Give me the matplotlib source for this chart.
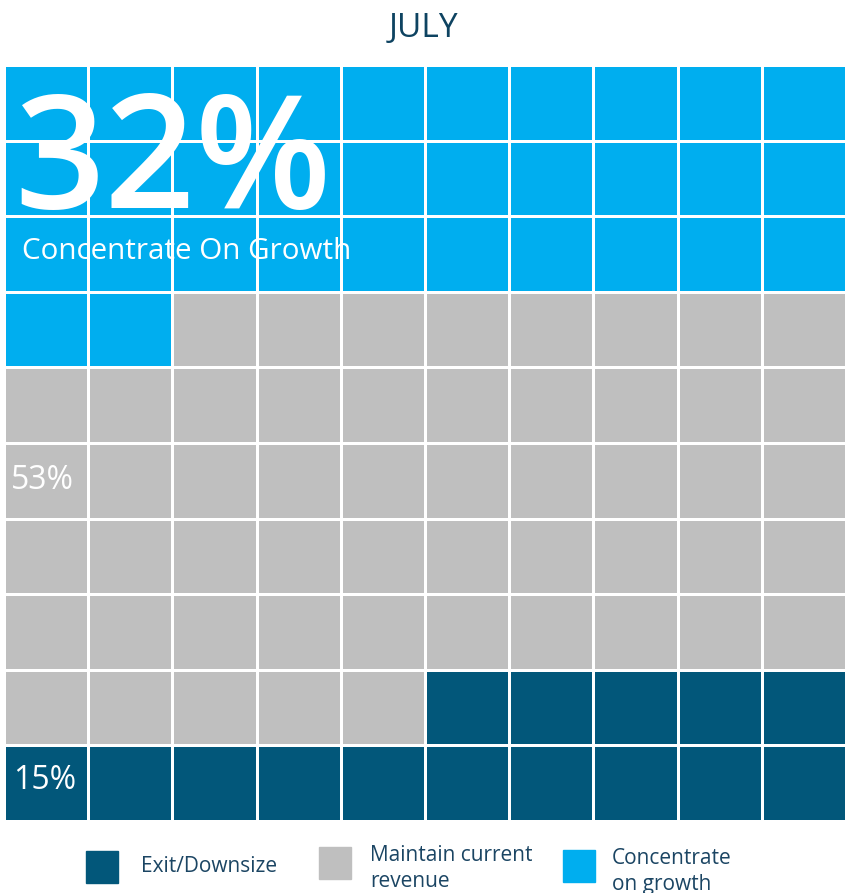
import matplotlib.pyplot as plt
from matplotlib.patches import Rectangle

# waffle data (percent of 100 cells), filled row by row from top-left
categories = ['Concentrate\non growth', 'Maintain current\nrevenue', 'Exit/Downsize']
counts = [32, 53, 15]
colors = ['#00AEEF', '#BFBFBF', '#02577A']
legend_order = [2, 1, 0]

W, H = 846, 893
plt.rcParams['font.family'] = ['Open Sans', 'DejaVu Sans']

fig = plt.figure(figsize=(W / 100, H / 100), dpi=100)

def fx(px):
    return px / W

def fy(py):
    return 1 - py / H

# grid axes: 10 x 10 cells, pitch 84.2 x 75.6 px
ax = fig.add_axes([fx(6), fy(67 + 756), 842 / W, 756 / H])
ax.set_xlim(0, 10)
ax.set_ylim(10, 0)
ax.axis('off')

gap_x = 3 / 84.2
gap_y = 3 / 75.6
cell_colors = []
for c, n in zip(colors, counts):
    cell_colors += [c] * n
cols = [i % 10 for i in range(100)]
rows = [i // 10 for i in range(100)]
ax.bar(cols, 1 - gap_y, width=1 - gap_x, bottom=rows, align='edge',
       color=cell_colors, linewidth=0)

# labels on the grid
fig.text(fx(14), fy(208), '32%', color='white', fontsize=114, fontweight='semibold',
         va='baseline', ha='left')
fig.text(fx(22), fy(259), 'Concentrate On Growth', color='white', fontsize=21.3,
         fontweight='medium', va='baseline', ha='left')
fig.text(fx(11), fy(489), '53%', color='white', fontsize=23, va='baseline', ha='left')
fig.text(fx(13), fy(789), '15%', color='white', fontsize=23, va='baseline', ha='left')

# title
fig.text(fx(424), fy(37), 'JULY', color='#0E4361', fontsize=24, fontweight='medium',
         va='baseline', ha='center')

# legend
sq = [(86, 851), (319, 847), (563, 850)]
txt = [(141, 872), (370, 887), (612, 890)]
for k, i in enumerate(legend_order):
    x0, y0 = sq[k]
    fig.patches.append(Rectangle((fx(x0), fy(y0 + 32)), 32 / W, 32 / H,
                                 transform=fig.transFigure, color=colors[i]))
    tx, ty = txt[k]
    fig.text(fx(tx), fy(ty), categories[i], color='#1B4563', fontsize=15,
             va='baseline', ha='left', linespacing=1.3)

fig.savefig('out.png', dpi=100)
